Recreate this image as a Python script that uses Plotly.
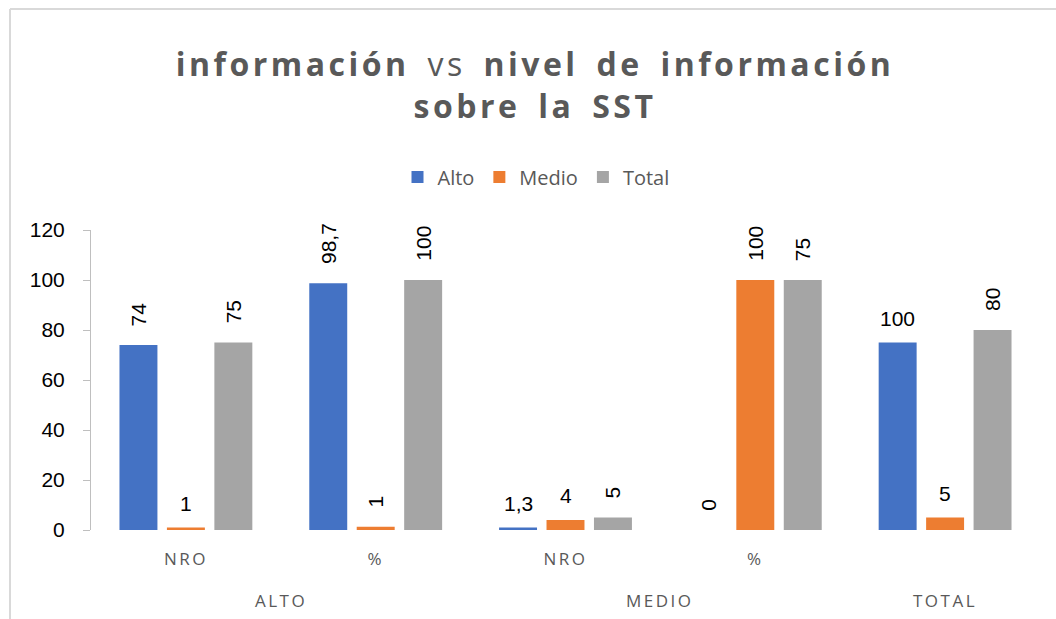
import plotly.graph_objects as go

# ---- data ----
groups = ["ALTO", "ALTO", "MEDIO", "MEDIO", "TOTAL"]
subcats = ["NRO", "%", "NRO", "%", ""]
series_names = ["Alto", "Medio", "Total"]
alto = [74, 98.7, 1, 0, 75]
medio = [1, 1.3, 4, 100, 5]
total = [75, 100, 5, 100, 80]
alto_labels = ["74", "98,7", "1,3", "0", "100"]
medio_labels = ["1", "1", "4", "100", "5"]
total_labels = ["75", "100", "5", "75", "80"]
y_ticks = [0, 20, 40, 60, 80, 100, 120]

# ---- styles ----
colors = ["#4472C4", "#ED7D31", "#A5A5A5"]
label_angles = [
    [-90, -90, 0, -90, 0],
    [0, -90, 0, -90, 0],
    [-90, -90, -90, -90, -90],
]
values = [alto, medio, total]
labels = [alto_labels, medio_labels, total_labels]
GRAY = "#595959"
W, H = 1056, 619
L, R, T, B = 91, 16, 230, 89
bargap, slot = 0.25, 0.25
pos = list(range(len(subcats)))


def spaced(s, px=2.5):
    return f'<span style="letter-spacing:{px}px">{s}</span>' if s else s


fig = go.Figure()
for name, vals, col in zip(series_names, values, colors):
    fig.add_trace(go.Bar(
        x=pos, y=vals, name=name,
        marker=dict(color=col, line=dict(width=0)),
    ))

annotations = []
for j, (vals, labs, angs) in enumerate(zip(values, labels, label_angles)):
    for i, (v, t, a) in enumerate(zip(vals, labs, angs)):
        annotations.append(dict(
            x=pos[i] + (j - 1) * slot, y=v, xref="x", yref="y",
            text=t, showarrow=False, textangle=a,
            xanchor="center", yanchor="bottom",
            yshift=17 if a != 0 else 11,
            font=dict(family="Liberation Sans", size=21, color="#000000"),
        ))

pw = W - L - R
ph = H - T - B


def px2x(px):
    return (px - L) / pw


def py2y(py):
    return (H - B - py) / ph


# group labels (second level of the category axis)
seen = []
for g in groups:
    if g not in seen:
        seen.append(g)
for g in seen:
    idx = [pos[k] for k, gg in enumerate(groups) if gg == g]
    annotations.append(dict(
        x=sum(idx) / len(idx), y=py2y(600), xref="x", yref="paper",
        text=spaced(g), showarrow=False, xanchor="center", yanchor="middle",
        font=dict(family="Open Sans", size=17, color=GRAY),
    ))

shapes = [
    dict(type="line", xref="paper", yref="paper",
         x0=px2x(10), x1=px2x(1056), y0=py2y(9), y1=py2y(9),
         line=dict(color="#D9D9D9", width=2)),
    dict(type="line", xref="paper", yref="paper",
         x0=px2x(10), x1=px2x(10), y0=py2y(9), y1=py2y(619),
         line=dict(color="#D9D9D9", width=2)),
]

title_txt = (
    '<span style="letter-spacing:3.5px;word-spacing:6px">'
    '<b>información</b> vs <b>nivel de información</b><br>'
    '<b>sobre la SST</b></span>'
)

fig.update_layout(
    width=W, height=H,
    margin=dict(l=L, r=R, t=T, b=B),
    paper_bgcolor="white", plot_bgcolor="white",
    barmode="group", bargap=bargap, bargroupgap=0.2,
    title=dict(
        text=title_txt,
        x=535 / W, xref="container", xanchor="center",
        y=1 - 76 / H, yref="container", yanchor="middle",
        font=dict(family="Open Sans", size=32, color=GRAY),
    ),
    legend=dict(
        orientation="h", xref="container", x=536 / W, xanchor="center",
        yref="container", y=1 - 177 / H, yanchor="middle",
        font=dict(family="Open Sans", size=20, color=GRAY),
        itemwidth=30, traceorder="normal",
    ),
    xaxis=dict(
        range=[-0.5, len(pos) - 0.5],
        tickmode="array", tickvals=pos, ticktext=[spaced(s) for s in subcats],
        showline=False, showgrid=False, zeroline=False, ticks="",
        ticklabelstandoff=17,
        tickfont=dict(family="Open Sans", size=17, color=GRAY),
    ),
    yaxis=dict(
        range=[0, 120], tickvals=y_ticks, showgrid=False,
        showline=True, linecolor="#BFBFBF", linewidth=1,
        ticks="outside", ticklen=7, tickcolor="#BFBFBF",
        ticklabelstandoff=14,
        tickfont=dict(family="Liberation Sans", size=21, color="#000000"),
        zeroline=False,
    ),
    annotations=annotations,
    shapes=shapes,
    showlegend=True,
)

fig.write_html("out.html")
